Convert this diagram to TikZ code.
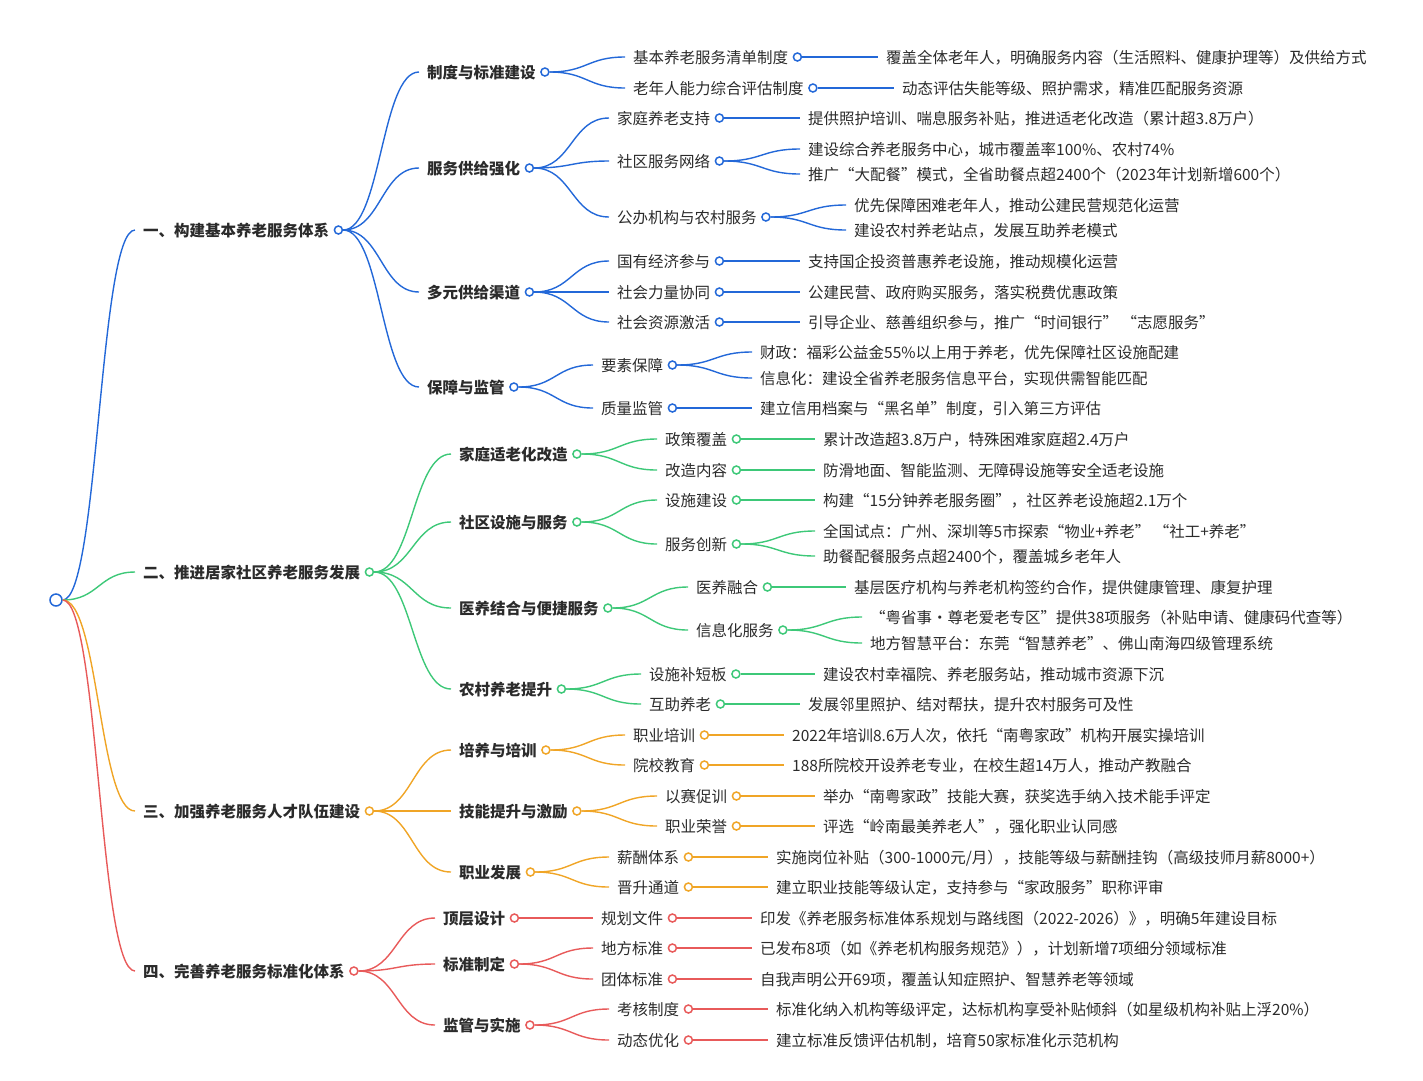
\documentclass[tikz,border=0pt]{standalone}
\usepackage{fontspec}
\setmainfont{Noto Sans CJK SC}
\usetikzlibrary{calc}
\definecolor{cb}{HTML}{2368D8}
\definecolor{cg}{HTML}{3DC878}
\definecolor{co}{HTML}{F0A526}
\definecolor{cr}{HTML}{E85A5A}
\definecolor{tx}{HTML}{2B2B2B}
\tikzset{
 txt/.style={inner sep=0pt,text height=12pt,text depth=0pt,font=\fontsize{15.5}{18}\selectfont,text=tx,anchor=west},
 bld/.style={font=\fontsize{15.5}{18}\selectfont\bfseries},
 dot/.style={circle,draw=#1,fill=white,line width=1.5pt,inner sep=0pt,minimum size=8pt},
 edge/.style={line width=1.4pt}
}
\newcommand\mn[5]{\node[txt,#5] (#1) at (#2,#3) {#4};
 \node[dot=#5col] (#1-c) at ($(#1.east)+(9,0)$) {};}
\newcommand\lf[4]{\node[txt] (#1) at (#2,#3) {#4};}
\newcommand\ed[3]{\draw[#1,edge] let \p1=(#2-c.east), \p2=($(#3.west)+(-8,0)$) in (\p1) .. controls ({0.5*\x1+0.5*\x2},\y1) and ({0.5*\x1+0.5*\x2},\y2) .. (\p2);}
\tikzset{cbcol/.style={},cgcol/.style={},cocol/.style={},crcol/.style={}}
\begin{document}
\begin{tikzpicture}[x=1pt,y=-1pt]
\useasboundingbox (0,0) rectangle (1423,1080);
\newcommand\Mb[4]{\mn{#1}{#2}{#3}{#4}{}\node[dot=cb] at (#1-c) {};}
% generic helpers with colour
\newcommand\M[6]{\node[txt,#6] (#1) at (#2,#3) {#4}; \node[dot=#5] (#1-c) at ($(#1.east)+(9,0)$) {};}
\node[dot=cb,minimum size=12pt] (r-c) at (56,600) {};
% level 1
\M{a}{143}{230}{一、构建基本养老服务体系}{cb}{bld}
\M{b}{143}{572}{二、推进居家社区养老服务发展}{cg}{bld}
\M{c}{143}{811}{三、加强养老服务人才队伍建设}{co}{bld}
\M{d}{143}{971}{四、完善养老服务标准化体系}{cr}{bld}
\ed{cb}{r}{a}\ed{cg}{r}{b}\ed{co}{r}{c}\ed{cr}{r}{d}
% ===== A
\M{a1}{427}{72}{制度与标准建设}{cb}{bld}
\M{a2}{427}{168}{服务供给强化}{cb}{bld}
\M{a3}{427}{292}{多元供给渠道}{cb}{bld}
\M{a4}{427}{387}{保障与监管}{cb}{bld}
\ed{cb}{a}{a1}\ed{cb}{a}{a2}\ed{cb}{a}{a3}\ed{cb}{a}{a4}
\M{a11}{633}{57}{基本养老服务清单制度}{cb}{}
\M{a12}{633}{88}{老年人能力综合评估制度}{cb}{}
\ed{cb}{a1}{a11}\ed{cb}{a1}{a12}
\lf{a111}{886}{57}{覆盖全体老年人，明确服务内容（生活照料、健康护理等）及供给方式}
\lf{a121}{902}{88}{动态评估失能等级、照护需求，精准匹配服务资源}
\ed{cb}{a11}{a111}\ed{cb}{a12}{a121}
\M{a21}{617}{118}{家庭养老支持}{cb}{}
\M{a22}{617}{161}{社区服务网络}{cb}{}
\M{a23}{617}{217}{公办机构与农村服务}{cb}{}
\ed{cb}{a2}{a21}\ed{cb}{a2}{a22}\ed{cb}{a2}{a23}
\lf{a211}{808}{118}{提供照护培训、喘息服务补贴，推进适老化改造（累计超3.8万户）}
\lf{a221}{808}{149}{建设综合养老服务中心，城市覆盖率100\%、农村74\%}
\lf{a222}{808}{174}{推广“大配餐”模式，全省助餐点超2400个（2023年计划新增600个）}
\lf{a231}{854}{205}{优先保障困难老年人，推动公建民营规范化运营}
\lf{a232}{854}{230}{建设农村养老站点，发展互助养老模式}
\ed{cb}{a21}{a211}\ed{cb}{a22}{a221}\ed{cb}{a22}{a222}\ed{cb}{a23}{a231}\ed{cb}{a23}{a232}
\M{a31}{617}{261}{国有经济参与}{cb}{}
\M{a32}{617}{292}{社会力量协同}{cb}{}
\M{a33}{617}{322}{社会资源激活}{cb}{}
\ed{cb}{a3}{a31}\ed{cb}{a3}{a32}\ed{cb}{a3}{a33}
\lf{a311}{808}{261}{支持国企投资普惠养老设施，推动规模化运营}
\lf{a321}{808}{292}{公建民营、政府购买服务，落实税费优惠政策}
\lf{a331}{808}{322}{引导企业、慈善组织参与，推广“时间银行”\ “志愿服务”}
\ed{cb}{a31}{a311}\ed{cb}{a32}{a321}\ed{cb}{a33}{a331}
\M{a41}{601}{365}{要素保障}{cb}{}
\M{a42}{601}{408}{质量监管}{cb}{}
\ed{cb}{a4}{a41}\ed{cb}{a4}{a42}
\lf{a411}{760}{352}{财政：福彩公益金55\%以上用于养老，优先保障社区设施配建}
\lf{a412}{760}{378}{信息化：建设全省养老服务信息平台，实现供需智能匹配}
\lf{a421}{760}{408}{建立信用档案与“黑名单”制度，引入第三方评估}
\ed{cb}{a41}{a411}\ed{cb}{a41}{a412}\ed{cb}{a42}{a421}
% ===== B
\M{b1}{459}{454}{家庭适老化改造}{cg}{bld}
\M{b2}{459}{522}{社区设施与服务}{cg}{bld}
\M{b3}{459}{608}{医养结合与便捷服务}{cg}{bld}
\M{b4}{459}{689}{农村养老提升}{cg}{bld}
\ed{cg}{b}{b1}\ed{cg}{b}{b2}\ed{cg}{b}{b3}\ed{cg}{b}{b4}
\M{b11}{665}{439}{政策覆盖}{cg}{}
\M{b12}{665}{470}{改造内容}{cg}{}
\ed{cg}{b1}{b11}\ed{cg}{b1}{b12}
\lf{b111}{823}{439}{累计改造超3.8万户，特殊困难家庭超2.4万户}
\lf{b121}{823}{470}{防滑地面、智能监测、无障碍设施等安全适老设施}
\ed{cg}{b11}{b111}\ed{cg}{b12}{b121}
\M{b21}{665}{500}{设施建设}{cg}{}
\M{b22}{665}{544}{服务创新}{cg}{}
\ed{cg}{b2}{b21}\ed{cg}{b2}{b22}
\lf{b211}{823}{500}{构建“15分钟养老服务圈”，社区养老设施超2.1万个}
\lf{b221}{823}{531}{全国试点：广州、深圳等5市探索“物业+养老”\ “社工+养老”}
\lf{b222}{823}{556}{助餐配餐服务点超2400个，覆盖城乡老年人}
\ed{cg}{b21}{b211}\ed{cg}{b22}{b221}\ed{cg}{b22}{b222}
\M{b31}{696}{587}{医养融合}{cg}{}
\M{b32}{696}{630}{信息化服务}{cg}{}
\ed{cg}{b3}{b31}\ed{cg}{b3}{b32}
\lf{b311}{854}{587}{基层医疗机构与养老机构签约合作，提供健康管理、康复护理}
\lf{b321}{870}{617}{“粤省事·尊老爱老专区”提供38项服务（补贴申请、健康码代查等）}
\lf{b322}{870}{643}{地方智慧平台：东莞“智慧养老”、佛山南海四级管理系统}
\ed{cg}{b31}{b311}\ed{cg}{b32}{b321}\ed{cg}{b32}{b322}
\M{b41}{649}{674}{设施补短板}{cg}{}
\M{b42}{649}{704}{互助养老}{cg}{}
\ed{cg}{b4}{b41}\ed{cg}{b4}{b42}
\lf{b411}{823}{674}{建设农村幸福院、养老服务站，推动城市资源下沉}
\lf{b421}{808}{704}{发展邻里照护、结对帮扶，提升农村服务可及性}
\ed{cg}{b41}{b411}\ed{cg}{b42}{b421}
% ===== C
\M{c1}{459}{750}{培养与培训}{co}{bld}
\M{c2}{459}{811}{技能提升与激励}{co}{bld}
\M{c3}{459}{872}{职业发展}{co}{bld}
\ed{co}{c}{c1}\ed{co}{c}{c2}\ed{co}{c}{c3}
\M{c11}{633}{735}{职业培训}{co}{}
\M{c12}{633}{765}{院校教育}{co}{}
\ed{co}{c1}{c11}\ed{co}{c1}{c12}
\lf{c111}{792}{735}{2022年培训8.6万人次，依托“南粤家政”机构开展实操培训}
\lf{c121}{792}{765}{188所院校开设养老专业，在校生超14万人，推动产教融合}
\ed{co}{c11}{c111}\ed{co}{c12}{c121}
\M{c21}{665}{796}{以赛促训}{co}{}
\M{c22}{665}{826}{职业荣誉}{co}{}
\ed{co}{c2}{c21}\ed{co}{c2}{c22}
\lf{c211}{823}{796}{举办“南粤家政”技能大赛，获奖选手纳入技术能手评定}
\lf{c221}{823}{826}{评选“岭南最美养老人”，强化职业认同感}
\ed{co}{c21}{c211}\ed{co}{c22}{c221}
\M{c31}{617}{857}{薪酬体系}{co}{}
\M{c32}{617}{887}{晋升通道}{co}{}
\ed{co}{c3}{c31}\ed{co}{c3}{c32}
\lf{c311}{776}{857}{实施岗位补贴（300-1000元/月），技能等级与薪酬挂钩（高级技师月薪8000+）}
\lf{c321}{776}{887}{建立职业技能等级认定，支持参与“家政服务”职称评审}
\ed{co}{c31}{c311}\ed{co}{c32}{c321}
% ===== D
\M{d1}{443}{918}{顶层设计}{cr}{bld}
\M{d2}{443}{964}{标准制定}{cr}{bld}
\M{d3}{443}{1025}{监管与实施}{cr}{bld}
\ed{cr}{d}{d1}\ed{cr}{d}{d2}\ed{cr}{d}{d3}
\M{d11}{601}{918}{规划文件}{cr}{}
\ed{cr}{d1}{d11}
\lf{d111}{760}{918}{印发《养老服务标准体系规划与路线图（2022-2026）》，明确5年建设目标}
\ed{cr}{d11}{d111}
\M{d21}{601}{948}{地方标准}{cr}{}
\M{d22}{601}{979}{团体标准}{cr}{}
\ed{cr}{d2}{d21}\ed{cr}{d2}{d22}
\lf{d211}{760}{948}{已发布8项（如《养老机构服务规范》），计划新增7项细分领域标准}
\lf{d221}{760}{979}{自我声明公开69项，覆盖认知症照护、智慧养老等领域}
\ed{cr}{d21}{d211}\ed{cr}{d22}{d221}
\M{d31}{617}{1009}{考核制度}{cr}{}
\M{d32}{617}{1040}{动态优化}{cr}{}
\ed{cr}{d3}{d31}\ed{cr}{d3}{d32}
\lf{d311}{776}{1009}{标准化纳入机构等级评定，达标机构享受补贴倾斜（如星级机构补贴上浮20\%）}
\lf{d321}{776}{1040}{建立标准反馈评估机制，培育50家标准化示范机构}
\ed{cr}{d31}{d311}\ed{cr}{d32}{d321}
\end{tikzpicture}
\end{document}
